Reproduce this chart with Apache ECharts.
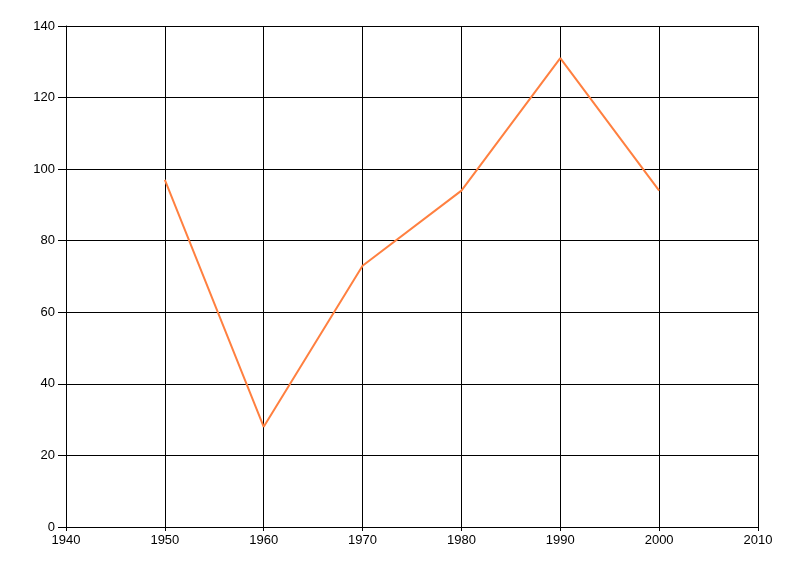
<!DOCTYPE html>
<html>
<head>
<meta charset="utf-8">
<script src="https://cdn.jsdelivr.net/npm/echarts@6/dist/echarts.min.js"></script>
<style>html,body{margin:0;padding:0;background:#fff;}#c{width:800px;height:576px;}</style>
</head>
<body>
<div id="c"></div>
<script>
var years = [1950, 1960, 1970, 1980, 1990, 2000];
var values = [97, 28, 73, 94, 131, 94];
var xMin = 1940, xMax = 2010, xStep = 10;
var yMin = 0, yMax = 140, yStep = 20;

var font = '"Liberation Sans Narrow", "Liberation Sans", Arial, sans-serif';
var chart = echarts.init(document.getElementById('c'));
chart.setOption({
  animation: false,
  backgroundColor: '#ffffff',
  grid: { left: 66, right: 42, top: 26, bottom: 49, containLabel: false },
  xAxis: {
    type: 'value', min: xMin, max: xMax, interval: xStep,
    axisLine: { show: true, onZero: false, lineStyle: { color: '#000', width: 1 } },
    axisTick: { show: true, length: 4, lineStyle: { color: '#000' } },
    axisLabel: { color: '#000', fontFamily: font, fontSize: 13, margin: 7, formatter: function(v){ return String(v); } },
    splitLine: { show: true, lineStyle: { color: '#000', width: 1 } }
  },
  yAxis: {
    type: 'value', min: yMin, max: yMax, interval: yStep,
    axisLine: { show: true, lineStyle: { color: '#000', width: 1 } },
    axisTick: { show: true, length: 8, lineStyle: { color: '#000' } },
    axisLabel: { color: '#000', fontFamily: font, fontSize: 13, margin: 11 },
    splitLine: { show: true, lineStyle: { color: '#000', width: 1 } }
  },
  series: [{
    type: 'line',
    data: years.map(function(y, i){ return [y, values[i]]; }),
    showSymbol: false,
    symbol: 'none',
    lineStyle: { color: '#ff8040', width: 2 },
    itemStyle: { color: '#ff8040' }
  }]
});
</script>
</body>
</html>
